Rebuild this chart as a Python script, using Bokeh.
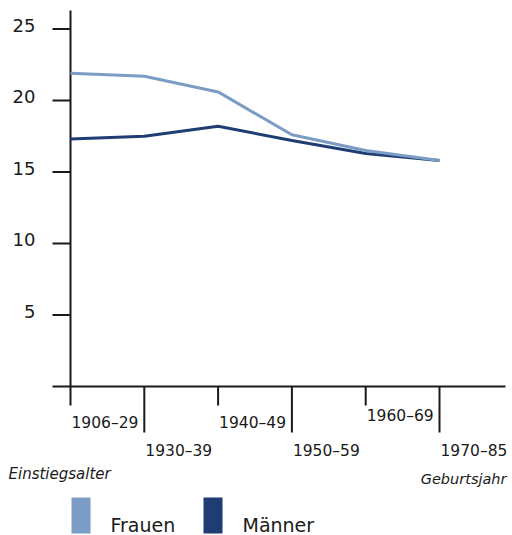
from bokeh.plotting import figure
from bokeh.models import Range1d
from bokeh.core.properties import value
from bokeh.embed import file_html
from bokeh.resources import INLINE

categories = ["1906–29", "1930–39", "1940–49", "1950–59", "1960–69", "1970–85"]
frauen = [21.9, 21.7, 20.6, 17.6, 16.5, 15.8]
maenner = [17.3, 17.5, 18.2, 17.2, 16.3, 15.8]
y_ticks = [5, 10, 15, 20, 25]
y_title = "Einstiegsalter"
x_title = "Geburtsjahr"
series_names = ["Frauen", "Männer"]
colors = ["#7b9dc5", "#1f3d73"]

W, H = 512, 535
X0, DX = 70.0, 73.8   # px of category 0, px per category
Y0, DY = 386.0, 14.3  # px of value 0, px per unit

def fx(px):
    return (px - X0) / DX

def fy(py):
    return (Y0 - py) / DY

p = figure(width=W, height=H,
           x_range=Range1d(-X0 / DX, (W - X0) / DX),
           y_range=Range1d((Y0 - H) / DY, Y0 / DY),
           output_backend="svg", toolbar_location=None,
           x_axis_location=None, y_axis_location=None, min_border=0)
p.outline_line_color = None
try:
    p.grid.visible = False
except Exception:
    pass

FONT = value("DejaVu Sans")
AX = "#1a1a1a"

# axis lines
p.segment(x0=[fx(52)], y0=[0], x1=[fx(505)], y1=[0], line_color=AX, line_width=2)
p.segment(x0=[0], y0=[0], x1=[0], y1=[fy(10)], line_color=AX, line_width=2)

# y ticks and labels
p.segment(x0=[fx(52)] * len(y_ticks), y0=y_ticks, x1=[0] * len(y_ticks), y1=y_ticks,
          line_color=AX, line_width=2)
p.text(x=[fx(35)] * len(y_ticks), y=[t + 4 / DY for t in y_ticks],
       text=[str(t) for t in y_ticks], text_font=FONT, text_font_size="18px",
       text_align="right", text_baseline="middle", text_color=AX)

# x ticks (alternating lengths) and staggered labels
idx = list(range(len(categories)))
tick_end = [fy(405) if i % 2 == 0 else fy(432) for i in idx]
p.segment(x0=idx, y0=[0] * len(idx), x1=idx, y1=tick_end, line_color=AX, line_width=2)
label_py = [422 if i % 2 == 0 else 450 for i in idx]
label_py[4] = 415
p.text(x=[i + 1 / DX for i in idx], y=[fy(v) for v in label_py], text=categories,
       text_font=FONT, text_font_size="15.5px", text_align="left",
       text_baseline="middle", text_color=AX)

# axis titles
p.text(x=[fx(8)], y=[fy(473)], text=[y_title], text_font=FONT, text_font_size="15px",
       text_font_style="italic", text_align="left", text_baseline="middle", text_color=AX)
p.text(x=[fx(506)], y=[fy(478)], text=[x_title], text_font=FONT, text_font_size="14.5px",
       text_font_style="italic", text_align="right", text_baseline="middle", text_color=AX)

# data lines
p.line(idx, maenner, line_color=colors[1], line_width=3)
p.line(idx, frauen, line_color=colors[0], line_width=3)

# legend
box_left = [71, 203]
for name, col, bl in zip(series_names, colors, box_left):
    p.quad(left=[fx(bl)], right=[fx(bl + 19)], top=[fy(497)], bottom=[fy(533)],
           fill_color=col, line_color=None)
    p.text(x=[fx(bl + 39)], y=[fy(524)], text=[name], text_font=FONT,
           text_font_size="19px", text_align="left", text_baseline="middle",
           text_color=AX)

open("out.html", "w").write(file_html(p, INLINE))
